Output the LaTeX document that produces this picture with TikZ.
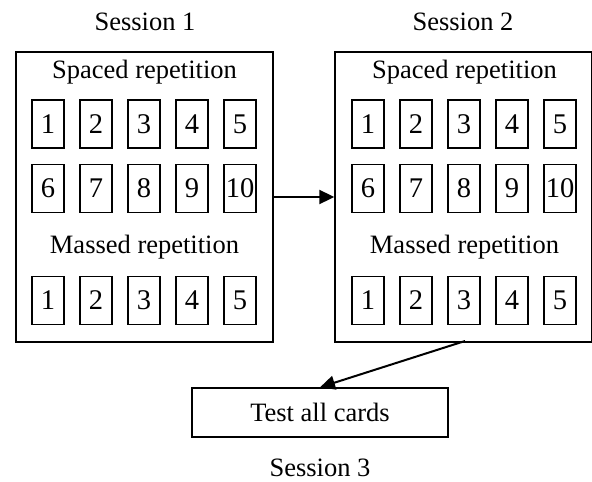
\documentclass[tikz,border=0pt]{standalone}
\usepackage{fontspec}
\setmainfont{Liberation Serif}
\usetikzlibrary{arrows.meta}
\begin{document}
\begin{tikzpicture}[x=1pt,y=-1pt,
  every node/.style={font=\fontsize{26.5}{31}\selectfont, inner sep=0pt},
  sessionbox/.style={draw, line width=1.4pt, minimum width=257pt, minimum height=290pt},
  card/.style={draw, line width=1.3pt, minimum width=32pt, minimum height=48pt, font=\fontsize{28.5}{32}\selectfont},
  testbox/.style={draw, line width=1.4pt, minimum width=256pt, minimum height=49pt},
  link/.style={line width=2pt, -{Triangle[length=15pt,width=14pt]}}]
\useasboundingbox (0,0) rectangle (592,482);

% session boxes
\node[sessionbox] (s1) at (144.5,197) {};
\node[sessionbox] (s2) at (463.5,197) {};
\node (t1) at (145,22) {Session 1};
\node (t2) at (463,22) {Session 2};

\foreach \b/\ox in {a/16, b/336} {
  \node (\b sp) at (\ox+128.5,72) {Spaced repetition};
  \node (\b ms) at (\ox+128.5,247) {Massed repetition};
  \foreach \i in {1,...,5} {
    \pgfmathtruncatemacro{\j}{\i+5}
    \node[card] (\b c\i) at (\ox+32+48*\i-48,124) {\i};
    \node[card] (\b c\j) at (\ox+32+48*\i-48,188.5) {\j};
    \node[card] (\b m\i) at (\ox+32+48*\i-48,300.5) {\i};
  }
}

% final test
\node[testbox] (test) at (320,412.5) {Test all cards};
\node (t3) at (320,468) {Session 3};

\coordinate (s2out) at (465,341);
\draw[link] (s1.east |- 0,197) -- (s2.west |- 0,197);
\draw[link] (s2out) -- (test.north);
\end{tikzpicture}
\end{document}
